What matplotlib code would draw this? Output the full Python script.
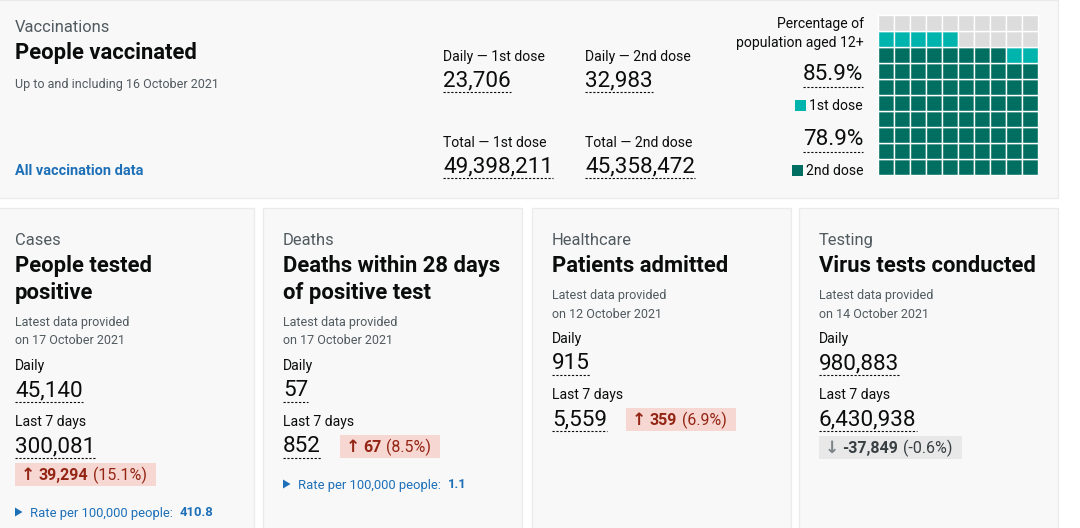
import matplotlib.pyplot as plt
from matplotlib.patches import Rectangle, Polygon

plt.rcParams['font.family'] = ['Roboto', 'DejaVu Sans']

# ---- data ----
vacc_labels = ['Daily — 1st dose', 'Daily — 2nd dose', 'Total — 1st dose', 'Total — 2nd dose']
vacc_values = [23706, 32983, 49398211, 45358472]
vacc_date = '16 October 2021'
pct_first = 85.9
pct_second = 78.9

card_cats = ['Cases', 'Deaths', 'Healthcare', 'Testing']
card_titles = ['People tested\npositive', 'Deaths within 28 days\nof positive test',
               'Patients admitted', 'Virus tests conducted']
card_dates = ['17 October 2021', '17 October 2021', '12 October 2021', '14 October 2021']
daily_values = [45140, 57, 915, 980883]
week_values = [300081, 852, 5559, 6430938]
week_change = [39294, 67, 359, -37849]
week_change_pct = [15.1, 8.5, 6.9, -0.6]
rate_100k = [410.8, 1.1, None, None]

# colours
BLACK = '#0b0c0c'
GREY = '#505a5f'
BLUE = '#1d70b8'
PANEL = '#f8f8f8'
EDGE = '#ebebeb'
RED_BG, RED_TX = '#f6d7d2', '#942514'
GREY_BG, GREY_TX = '#e8e8e8', '#383f43'
EMPTY_C, FIRST_C, SECOND_C = '#dcdcdc', '#00b4ae', '#006f62'

# font sizes in pixels
CAT, TITLE, SMALL, LABEL, NUM, BADGE, RATE = 16.5, 22, 12.5, 14, 22.5, 16, 13

W, H = 1080, 528
fig = plt.figure(figsize=(W / 100, H / 100), dpi=100)
fig.patch.set_facecolor('white')
ax = fig.add_axes([0, 0, 1, 1])
ax.set_xlim(0, W)
ax.set_ylim(H, 0)
ax.axis('off')
renderer = fig.canvas.get_renderer()


def put(x, y, s, px, color=BLACK, bold=False, ha='left'):
    return ax.text(x, y, s, fontsize=px * 0.72, color=color, ha=ha, va='baseline',
                   fontweight='bold' if bold else 'normal', zorder=3)


def ext(t):
    return t.get_window_extent(renderer)


def underline(t, y):
    bb = ext(t)
    ax.plot([bb.x0, bb.x1], [y, y], color=BLACK, lw=0.8, ls=(0, (2.0, 1.5)),
            solid_capstyle='butt', zorder=3)


# ---- top panel: vaccinations ----
ax.add_patch(Rectangle((-5, 0), 1063, 198, facecolor=PANEL, edgecolor=EDGE, lw=1, zorder=1))
put(15, 32, 'Vaccinations', CAT, GREY)
put(15, 59, 'People vaccinated', TITLE, bold=True)
put(15, 88, 'Up to and including ' + vacc_date, SMALL, GREY)
put(15, 175, 'All vaccination data', 14.5, BLUE, bold=True)

col_x = [443, 585]
for i, (lab, val) in enumerate(zip(vacc_labels, vacc_values)):
    x = col_x[i % 2]
    yb = [61, 147][i // 2]
    put(x, yb, lab, LABEL)
    t = put(x, yb + 25, f'{val:,}', NUM)
    underline(t, yb + 31)

# waffle of 100 cells, filled bottom-up, left to right
n_second = int(pct_second)
n_first = int(pct_first)
for k in range(100):
    row, col = k // 10, k % 10
    c = SECOND_C if k < n_second else FIRST_C if k < n_first else EMPTY_C
    ax.add_patch(Rectangle((878 + col * 16, 15 + (9 - row) * 16), 16, 16,
                           facecolor=c, edgecolor='white', lw=1.0, zorder=2))

put(864, 28, 'Percentage of', LABEL, ha='right')
put(864, 47, 'population aged 12+', LABEL, ha='right')
for pct, lab, c, yb in [(pct_first, '1st dose', FIRST_C, 80), (pct_second, '2nd dose', SECOND_C, 145)]:
    t = put(863, yb, f'{pct}%', NUM, ha='right')
    underline(t, yb + 7)
    t = put(863, yb + 30, lab, LABEL, ha='right')
    x0 = ext(t).x0
    ax.add_patch(Rectangle((x0 - 14, yb + 20), 11, 11, facecolor=c, edgecolor='none', zorder=2))

# ---- headline cards ----
card_left = [-5, 263, 532, 799]
card_w = 259
for i in range(4):
    left = card_left[i]
    ax.add_patch(Rectangle((left, 208), card_w, 340, facecolor=PANEL, edgecolor=EDGE, lw=1, zorder=1))
    x = left + 20
    right = left + card_w - 15
    put(x, 245, card_cats[i], CAT, GREY)
    lines = card_titles[i].split('\n')
    for j, ln in enumerate(lines):
        put(x, 272 + 27 * j, ln, TITLE, bold=True)
    base = 272 + 27 * (len(lines) - 1)
    put(x, base + 27, 'Latest data provided', SMALL, GREY)
    put(x, base + 45.5, 'on ' + card_dates[i], SMALL, GREY)
    put(x, base + 71, 'Daily', LABEL)
    t = put(x, base + 97, f'{daily_values[i]:,}', NUM)
    underline(t, base + 102.5)
    put(x, base + 127, 'Last 7 days', LABEL)
    yn = base + 153
    tn = put(x, yn, f'{week_values[i]:,}', NUM)
    underline(tn, yn + 5.5)

    # change badge
    up = week_change[i] > 0
    bg, fg = (RED_BG, RED_TX) if up else (GREY_BG, GREY_TX)
    ta = put(0, 0, '↑' if up else '↓', 17, fg if up else '#7b8286', bold=True)
    ta.set_fontfamily('DejaVu Sans')
    tb = put(0, 0, f'{week_change[i]:,}', BADGE, fg, bold=True)
    tp = put(0, 0, f'({week_change_pct[i]}%)', BADGE, fg)
    wa, wb, wp = ext(ta).width, ext(tb).width, ext(tp).width
    bw = 6 + wa + 3 + wb + 5 + wp + 9
    bx = ext(tn).x1 + 19
    if bx + bw <= right:
        top, tyb = yn - 17, yn
    else:
        bx, top = x, yn + 11
        tyb = top + 17
    ax.add_patch(Rectangle((bx, top), bw, 23, facecolor=bg, edgecolor='none', zorder=2))
    ta.set_position((bx + 6, tyb))
    tb.set_position((bx + 6 + wa + 3, tyb))
    tp.set_position((bx + 6 + wa + 3 + wb + 5, tyb))

    if rate_100k[i] is not None:
        cy = max(top + 23, yn + 5.5) + 26
        ax.add_patch(Polygon([[x, cy - 4.5], [x + 7.5, cy], [x, cy + 4.5]], closed=True,
                             facecolor=BLUE, edgecolor='none', zorder=3))
        tr = put(x + 15, cy + 4.5, 'Rate per 100,000 people:', RATE, BLUE)
        put(ext(tr).x1 + 7, cy + 4.5, f'{rate_100k[i]}', RATE, BLUE, bold=True)

fig.savefig('out.png', dpi=100, facecolor='white')
